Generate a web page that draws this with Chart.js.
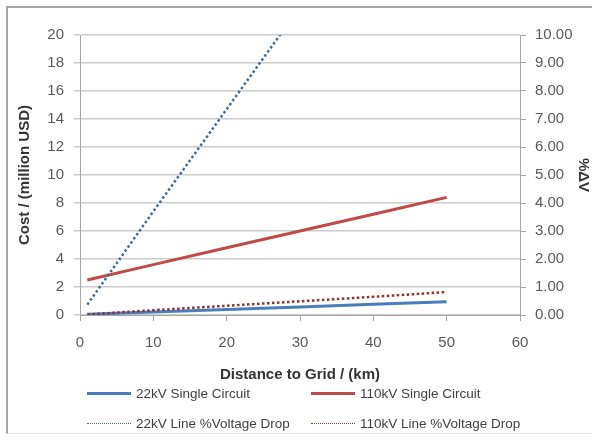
<!DOCTYPE html>
<html>
<head>
<meta charset="utf-8">
<script src="https://cdn.jsdelivr.net/npm/chart.js@4/dist/chart.umd.min.js"></script>
<style>
body { margin: 0; background: #fff; }
#wrap { position: relative; width: 592px; height: 443px; overflow: hidden; }
#frame { position: absolute; left: 6px; top: 6px; width: 600px; height: 425px;
  border-left: 2px solid #a6a6a6; border-top: 2px solid #a6a6a6; border-bottom: 1px solid #e4e4e4; }
canvas { position: absolute; left: 0; top: 0; }
.item { position: absolute; display: flex; align-items: center; height: 16px;
  font: 13.5px 'Liberation Sans', Arial, sans-serif; color: #404040; white-space: nowrap; }
.swatch { width: 44px; height: 0; margin-right: 5px; }
</style>
</head>
<body>
<div id="wrap">
  <div id="frame"></div>
  <canvas id="gridChart" width="592" height="443"></canvas>
  <div id="legend"></div>
</div>
<script>
// values (distance in km)
const distances = [1, 10, 20, 30, 40, 50];
const cost22 = [0.05, 0.22, 0.40, 0.58, 0.77, 0.95];
const cost110 = [2.5, 3.6, 4.8, 6.0, 7.2, 8.4];
const drop22 = [0.37, 3.7, 7.35, 11.0, 14.7, 18.3];
const drop110 = [0.02, 0.17, 0.33, 0.49, 0.65, 0.82];

const xTicks = [0, 10, 20, 30, 40, 50, 60];
const leftTicks = [0, 2, 4, 6, 8, 10, 12, 14, 16, 18, 20];
const rightTicks = [0, 1, 2, 3, 4, 5, 6, 7, 8, 9, 10];

const FONT = "'Liberation Sans', Arial, sans-serif";

function points(ys) {
    return distances.map((d, i) => ({x: d, y: ys[i]}));
}

const datasets = [
    {label: '22kV Single Circuit', data: points(cost22), yAxisID: 'y',
     borderColor: '#4a7ebb', borderWidth: 3, order: 2},
    {label: '110kV Single Circuit', data: points(cost110), yAxisID: 'y',
     borderColor: '#be4b48', borderWidth: 3, order: 2},
    {label: '22kV Line %Voltage Drop', data: points(drop22), yAxisID: 'y2',
     borderColor: '#3e6a9c', borderWidth: 2.5, borderDash: [2.5, 2.5], order: 1},
    {label: '110kV Line %Voltage Drop', data: points(drop110), yAxisID: 'y2',
     borderColor: '#8e3230', borderWidth: 2.5, borderDash: [2.5, 2.5], order: 1}
];

const tickFont = {family: FONT, size: 15};
const titleFont = {family: FONT, size: 15, weight: 'bold'};

const chart = new Chart(document.getElementById('gridChart'), {
    type: 'line',
    data: {datasets: datasets},
    options: {
        responsive: false,
        animation: false,
        devicePixelRatio: 1,
        elements: {point: {radius: 0}, line: {tension: 0}},
        layout: {padding: {left: 0, right: 0, top: 35, bottom: 58}},
        plugins: {legend: {display: false}, tooltip: {enabled: false}},
        scales: {
            x: {
                type: 'linear', min: 0, max: 60,
                afterBuildTicks: s => { s.ticks = xTicks.map(v => ({value: v})); },
                afterFit: s => { s.height = 70; },
                ticks: {font: tickFont, color: '#595959', padding: 13, maxRotation: 0},
                grid: {drawOnChartArea: false, drawTicks: true, tickLength: 6, color: '#a6a6a6'},
                border: {display: true, color: '#a6a6a6', width: 1},
                title: {display: true, text: 'Distance to Grid / (km)', font: titleFont,
                        color: '#333', padding: {top: 0, bottom: 1}}
            },
            y: {
                position: 'left', min: 0, max: 20,
                afterBuildTicks: s => { s.ticks = leftTicks.map(v => ({value: v})); },
                afterFit: s => { s.width = 80; },
                ticks: {font: tickFont, color: '#595959', padding: 10},
                grid: {color: '#cbcbcb', lineWidth: 1.5, tickLength: 6},
                border: {display: true, color: '#a6a6a6', width: 1},
                title: {display: true, text: 'Cost / (million USD)', font: titleFont,
                        color: '#333', padding: {top: 16, bottom: 0}}
            },
            y2: {
                position: 'right', min: 0, max: 10,
                afterBuildTicks: s => { s.ticks = rightTicks.map(v => ({value: v})); },
                afterFit: s => { s.width = 72; },
                ticks: {font: tickFont, color: '#595959', padding: 9,
                        callback: v => v.toFixed(2)},
                grid: {drawOnChartArea: false, tickLength: 6, color: '#a6a6a6'},
                border: {display: true, color: '#a6a6a6', width: 1},
                title: {display: true, text: '%ΔV', font: titleFont,
                        color: '#333', padding: {top: 0, bottom: 0}}
            }
        }
    }
});

// legend laid out like the spreadsheet one: two columns, two rows
const legendSpots = [[87, 385], [311, 385], [87, 415], [311, 415]];
const legend = document.getElementById('legend');
chart.data.datasets.forEach((ds, i) => {
    const item = document.createElement('div');
    item.className = 'item';
    item.style.left = legendSpots[i][0] + 'px';
    item.style.top = legendSpots[i][1] + 'px';
    const sw = document.createElement('span');
    sw.className = 'swatch';
    sw.style.borderTop = ds.borderDash ? '1.5px dotted ' + ds.borderColor : '3px solid ' + ds.borderColor;
    const txt = document.createElement('span');
    txt.textContent = ds.label;
    item.appendChild(sw);
    item.appendChild(txt);
    legend.appendChild(item);
});
</script>
</body>
</html>
